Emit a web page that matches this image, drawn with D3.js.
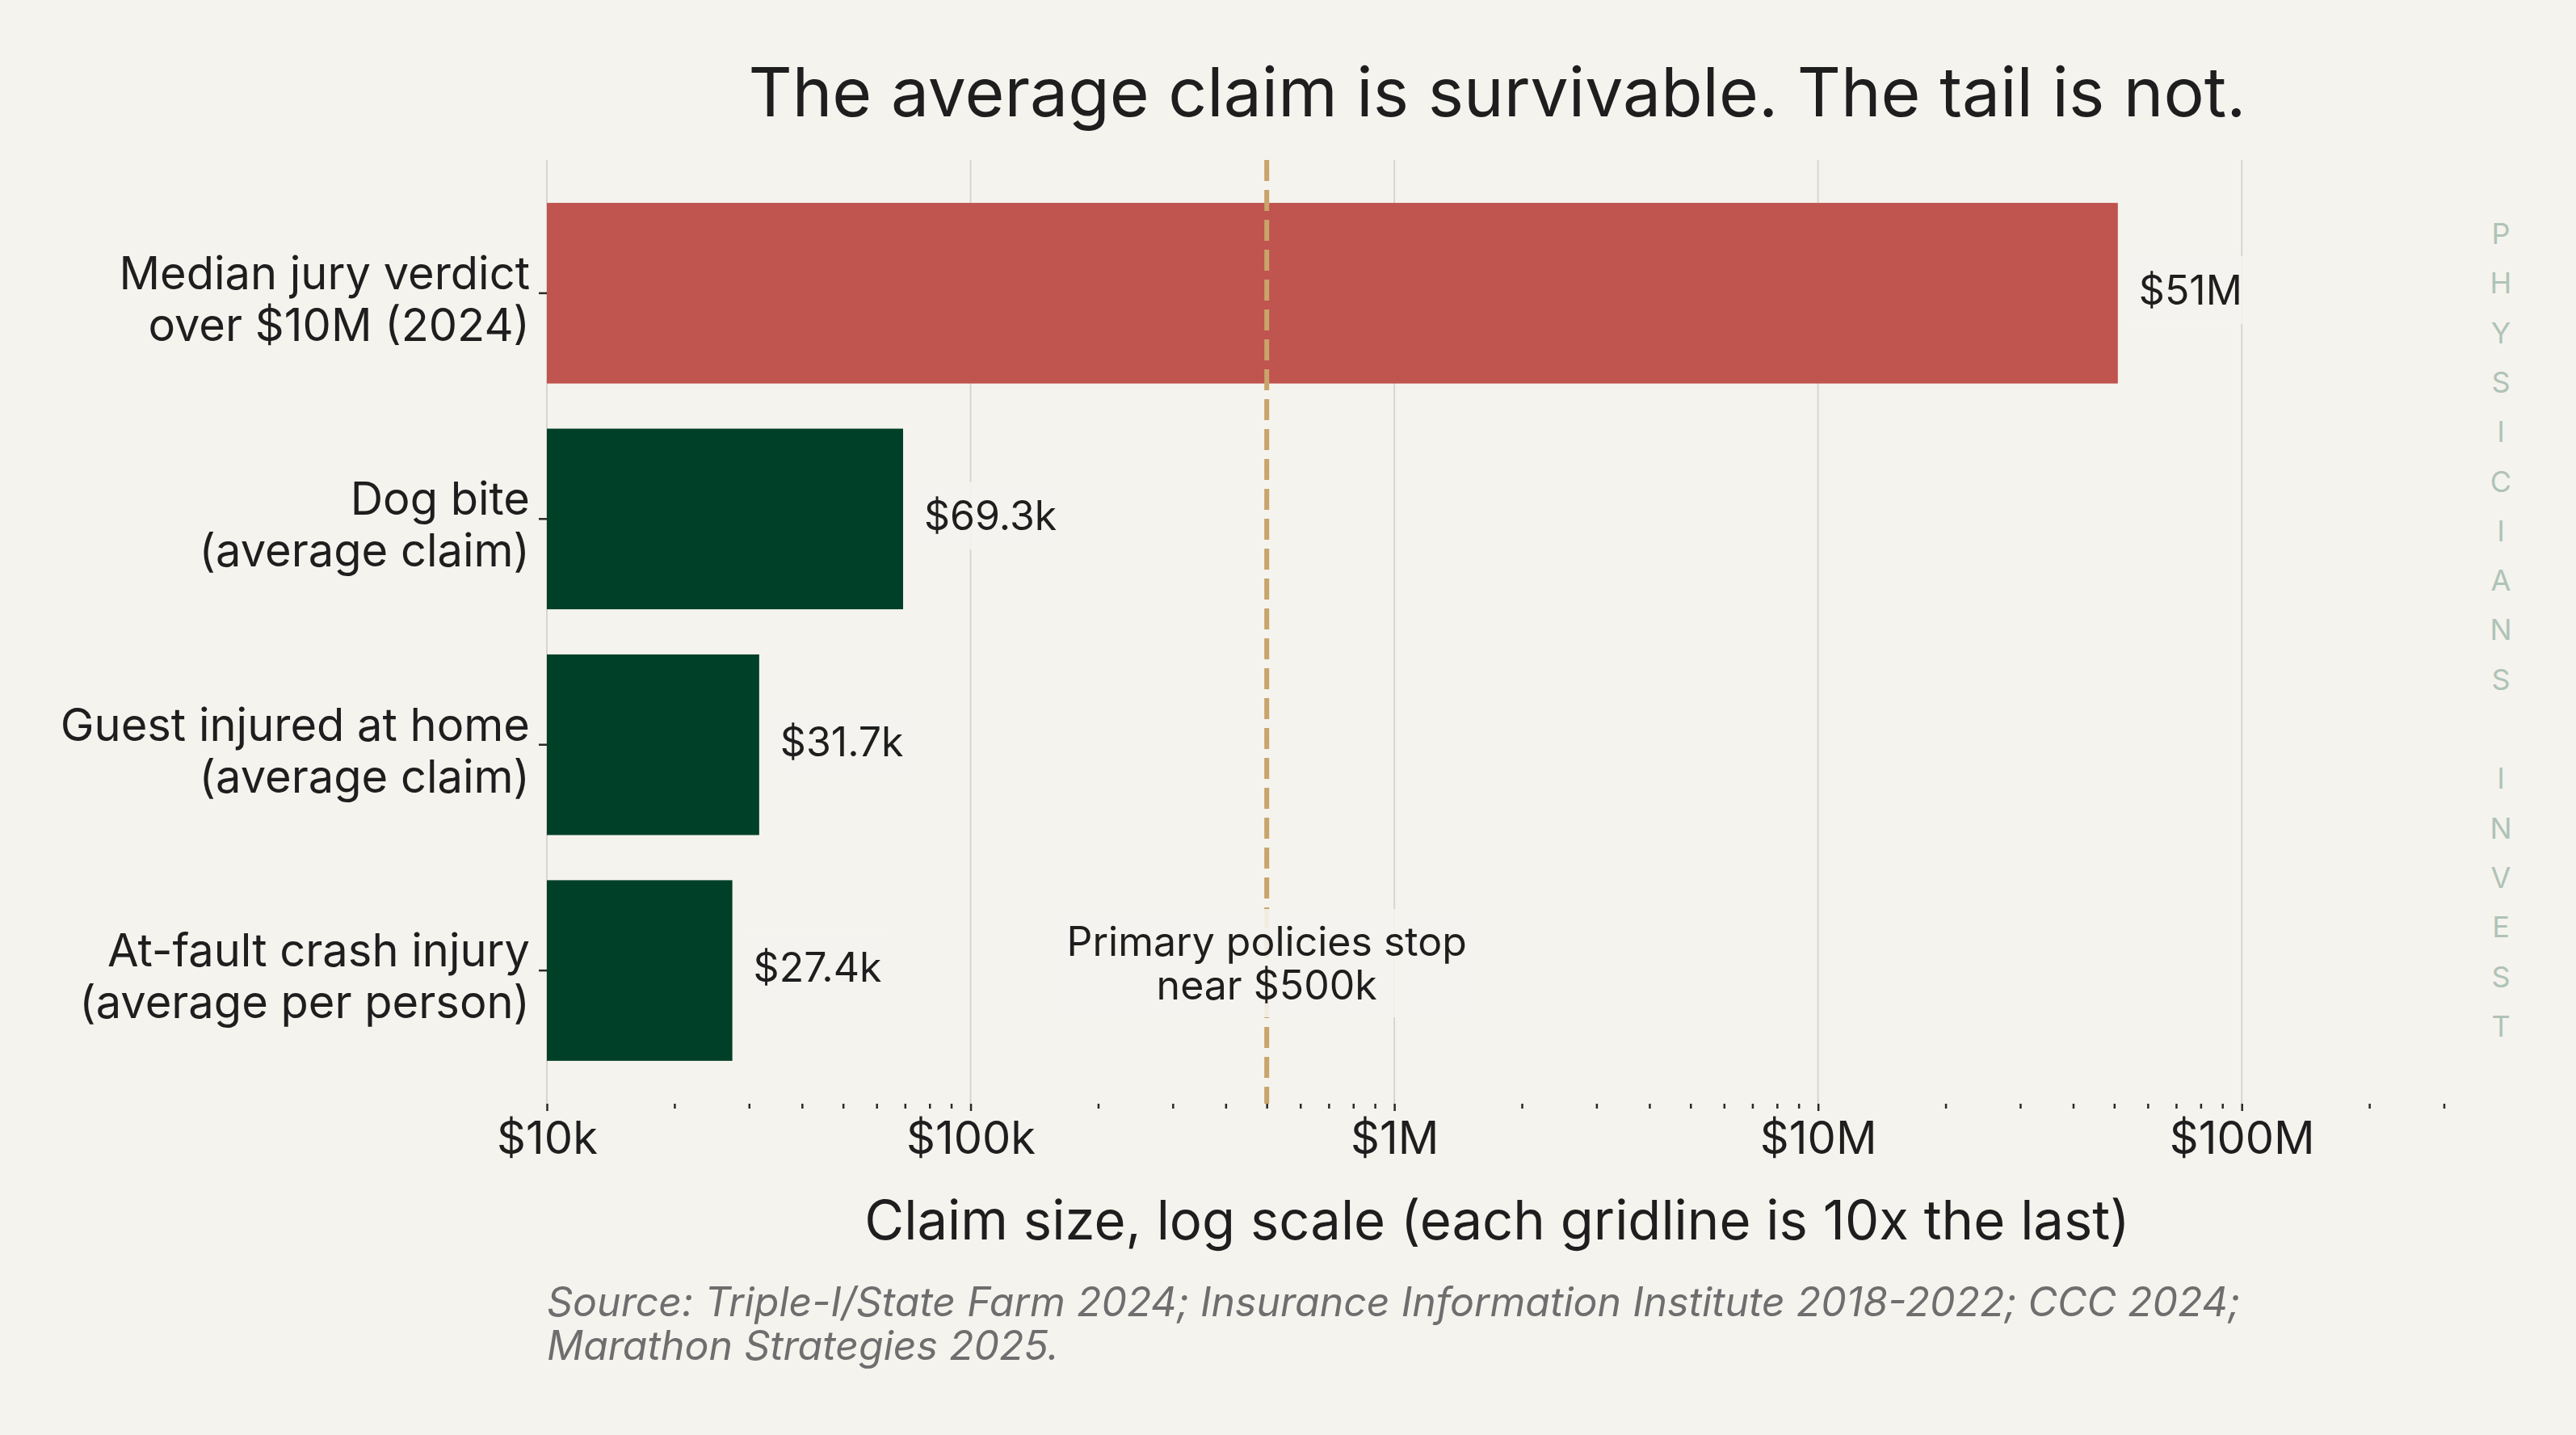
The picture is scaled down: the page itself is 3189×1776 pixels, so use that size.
<!DOCTYPE html>
<html>
<head>
<meta charset="utf-8">
<script src="https://cdn.jsdelivr.net/npm/d3@7"></script>
<style>
  html, body { margin: 0; padding: 0; background: #F5F3EE; }
  svg { display: block; font-family: Inter, "Noto Sans", sans-serif; }
</style>
</head>
<body>
<svg id="chart" width="3189" height="1776"></svg>
<script>
(() => {
    // Chart data
    const categories = [
        ["Median jury verdict", "over $10M (2024)"],
        ["Dog bite", "(average claim)"],
        ["Guest injured at home", "(average claim)"],
        ["At-fault crash injury", "(average per person)"]
    ];
    const claimValues = [51000000, 69300, 31700, 27400];
    const valueLabels = ["$51M", "$69.3k", "$31.7k", "$27.4k"];
    const majorTicks = [1e4, 1e5, 1e6, 1e7, 1e8];
    const majorTickLabels = ["$10k", "$100k", "$1M", "$10M", "$100M"];
    const policyLimit = 500000;
    const policyNote = ["Primary policies stop", "near $500k"];
    const sourceLines = [
        "Source: Triple-I/State Farm 2024; Insurance Information Institute 2018-2022; CCC 2024;",
        "Marathon Strategies 2025."
    ];
    const watermark = "PHYSICIANS INVEST";

    const bg = "#F5F3EE", ink = "#1E1E1E";
    const svg = d3.select("#chart");
    const plot = { left: 677, right: 3030, top: 198, bottom: 1366 };

    svg.append("rect").attr("width", 3189).attr("height", 1776).attr("fill", bg);

    const data = categories.map((c, i) => ({ key: i, lines: c, value: claimValues[i], label: valueLabels[i] }));

    const x = d3.scaleLog().domain([1e4, d3.max(claimValues) * 6]).range([plot.left, plot.right]);
    const y = d3.scaleBand().domain(data.map(d => d.key))
        .range([plot.top, plot.bottom]).paddingInner(0.2).paddingOuter(0.19);

    // Gridlines at each decade
    svg.append("g").selectAll("line").data(majorTicks).join("line")
        .attr("x1", d => x(d)).attr("x2", d => x(d))
        .attr("y1", plot.top).attr("y2", plot.bottom)
        .attr("stroke", "#D8D5CE").attr("stroke-width", 2);

    // Bars
    svg.append("g").selectAll("rect").data(data).join("rect")
        .attr("x", x(1e4))
        .attr("y", d => y(d.key))
        .attr("width", d => x(d.value) - x(1e4))
        .attr("height", y.bandwidth())
        .attr("fill", d => d.value >= 1e7 ? "#C0544F" : "#004028");

    // Primary policy limit line
    svg.append("line")
        .attr("x1", x(policyLimit)).attr("x2", x(policyLimit))
        .attr("y1", plot.top).attr("y2", plot.bottom)
        .attr("stroke", "#C9A46B").attr("stroke-width", 6)
        .attr("stroke-dasharray", "26 11");

    // Text with background box helper
    function boxedText(g, pad) {
        const bb = g.node().getBBox();
        g.insert("rect", ":first-child")
            .attr("x", bb.x - pad).attr("y", bb.y - pad)
            .attr("width", bb.width + 2 * pad).attr("height", bb.height + 2 * pad)
            .attr("fill", bg).attr("opacity", 0.9);
    }

    // Value labels
    data.forEach(d => {
        const g = svg.append("g");
        g.append("text")
            .attr("x", x(d.value) + 26)
            .attr("y", y(d.key) + y.bandwidth() / 2)
            .attr("dy", "0.28em")
            .attr("font-size", 50).attr("fill", ink)
            .text(d.label);
        boxedText(g, 12);
    });

    // Annotation
    const note = svg.append("g");
    const noteText = note.append("text")
        .attr("text-anchor", "middle").attr("font-size", 50).attr("fill", ink);
    policyNote.forEach((t, i) => {
        noteText.append("tspan").attr("x", x(policyLimit)).attr("y", 1183 + i * 54).text(t);
    });
    boxedText(note, 10);

    // X axis: major ticks with labels
    const xAxis = svg.append("g")
        .attr("transform", `translate(0,${plot.bottom})`)
        .call(d3.axisBottom(x).tickValues(majorTicks)
            .tickFormat((d, i) => majorTickLabels[i]).tickSize(9).tickPadding(13))
        .attr("font-family", null).attr("font-size", null);
    xAxis.select(".domain").remove();
    xAxis.selectAll("line").attr("stroke", "#2A2A2A").attr("stroke-width", 2.5);
    xAxis.selectAll("text").attr("font-size", 56).attr("fill", ink);

    // X axis: minor ticks
    const minorTicks = x.ticks().filter(t => !majorTicks.some(m => Math.abs(m - t) < 1e-6 * m));
    const xMinor = svg.append("g")
        .attr("transform", `translate(0,${plot.bottom})`)
        .call(d3.axisBottom(x).tickValues(minorTicks).tickFormat("").tickSize(6));
    xMinor.select(".domain").remove();
    xMinor.selectAll("line").attr("stroke", "#2A2A2A").attr("stroke-width", 2.5);

    // Y axis with two-line labels
    const yAxis = svg.append("g")
        .attr("transform", `translate(${plot.left},0)`)
        .call(d3.axisLeft(y).tickSize(10).tickPadding(11).tickFormat(""))
        .attr("font-family", null).attr("font-size", null);
    yAxis.select(".domain").remove();
    yAxis.selectAll("line").attr("stroke", "#2A2A2A").attr("stroke-width", 2.5);
    yAxis.selectAll(".tick text").each(function (k) {
        const t = d3.select(this).attr("dy", null)
            .attr("font-size", 56).attr("fill", ink);
        categories[k].forEach((line, i) => {
            t.append("tspan").attr("x", -21).attr("y", -5 + i * 64).text(line);
        });
    });

    // Title
    svg.append("text")
        .attr("x", (plot.left + plot.right) / 2).attr("y", 144)
        .attr("text-anchor", "middle").attr("font-size", 84).attr("fill", ink)
        .text("The average claim is survivable. The tail is not.");

    // X axis title
    svg.append("text")
        .attr("x", (plot.left + plot.right) / 2).attr("y", 1534)
        .attr("text-anchor", "middle").attr("font-size", 67).attr("fill", ink)
        .text("Claim size, log scale (each gridline is 10x the last)");

    // Source
    svg.append("g").selectAll("text").data(sourceLines).join("text")
        .attr("x", plot.left).attr("y", (d, i) => 1629 + i * 54)
        .attr("font-size", 50).attr("font-style", "italic").attr("fill", "#6E6E6E")
        .text(d => d);

    // Vertical watermark
    svg.append("g").selectAll("text").data(watermark.split("")).join("text")
        .attr("x", 3096).attr("y", (d, i) => 302 + i * 61.3)
        .attr("text-anchor", "middle").attr("font-size", 36).attr("fill", "#AFC3B6")
        .text(d => d);
})();
</script>
</body>
</html>
